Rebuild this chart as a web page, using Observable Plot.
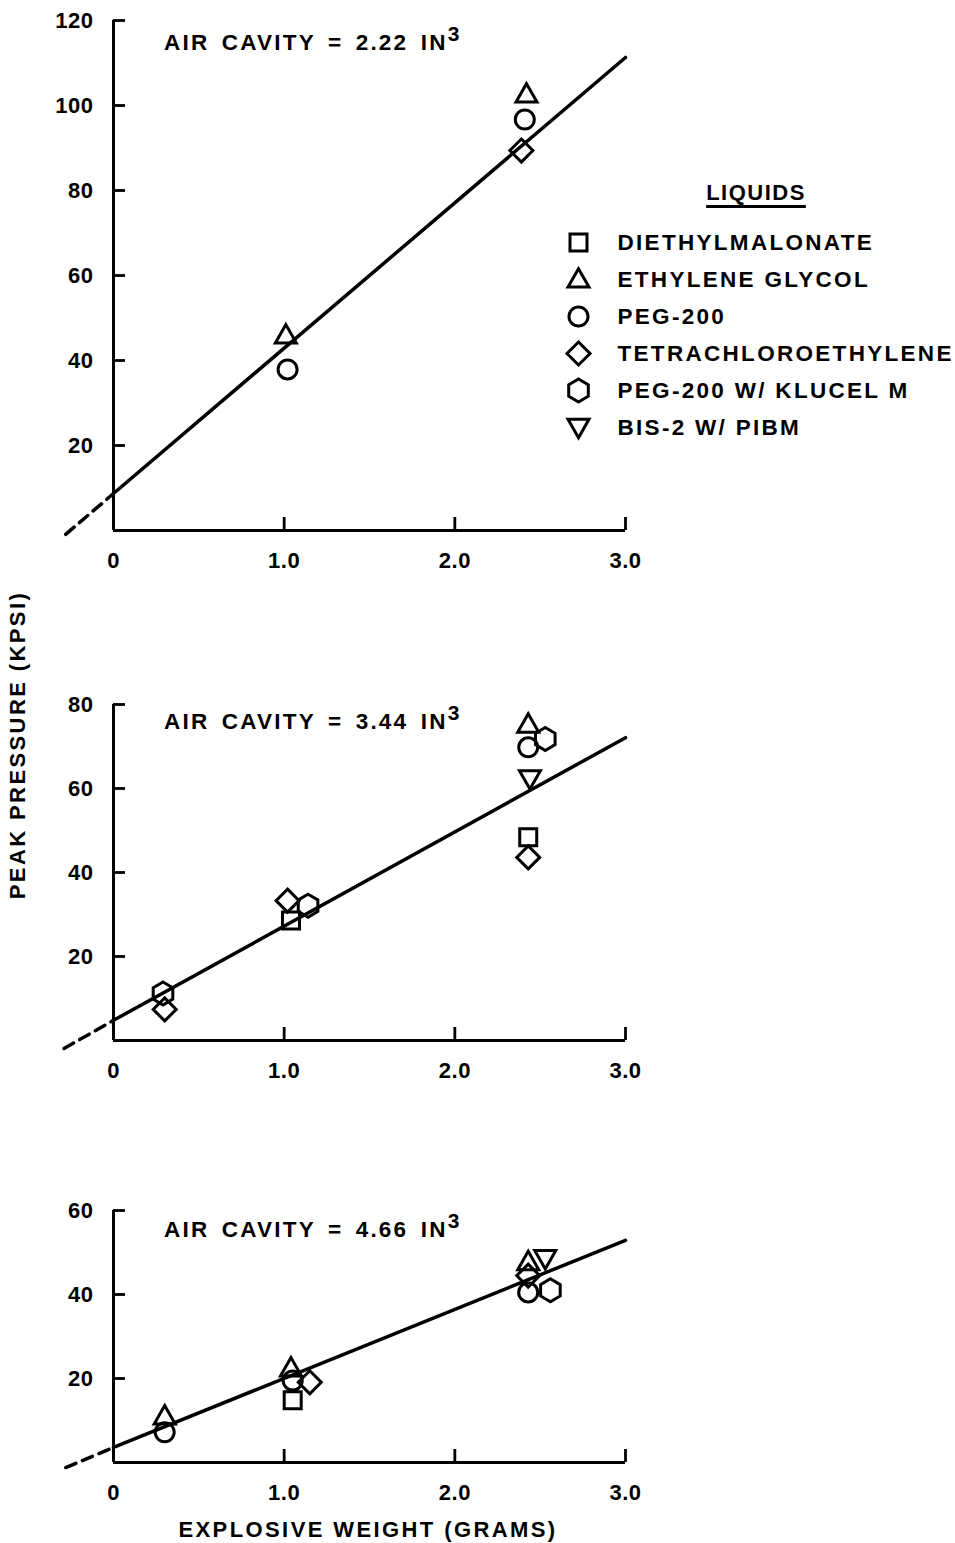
<!DOCTYPE html>
<html>
<head>
<meta charset="utf-8">
<script src="https://cdn.jsdelivr.net/npm/d3@7"></script>
<script src="https://cdn.jsdelivr.net/npm/@observablehq/plot@0.6"></script>
<style>
html, body { margin: 0; padding: 0; background: #fff; }
#page { position: relative; width: 955px; height: 1543px; overflow: hidden; background: #fff;
  font-family: "Liberation Sans", Arial, sans-serif; font-weight: bold; color: #000; }
.abs { position: absolute; }
.title { font-size: 22.5px; line-height: 22px; letter-spacing: 2.2px; word-spacing: 4px; white-space: nowrap; }
.title .sup { display: inline-block; position: relative; top: -9px; font-size: 21px; letter-spacing: 0; }
.axtitle { font-size: 22px; line-height: 22px; letter-spacing: 2.4px; white-space: nowrap; text-align: center; }
.head { font-size: 22px; line-height: 22px; letter-spacing: 1.5px; text-align: center; white-space: nowrap;
  text-decoration: underline; text-decoration-thickness: 2.5px; text-underline-offset: 5px; }
</style>
</head>
<body>
<div id="page"></div>
<script>
// ---------- data ----------
const liquids = ["DIETHYLMALONATE", "ETHYLENE GLYCOL", "PEG-200", "TETRACHLOROETHYLENE", "PEG-200 W/ KLUCEL M", "BIS-2 W/ PIBM"];
const cavities = ["2.22", "3.44", "4.66"];
const xTickValues = [0, 1, 2, 3];
const xTickLabels = ["0", "1.0", "2.0", "3.0"];
const yTicks1 = [20, 40, 60, 80, 100, 120];
const yTicks2 = [20, 40, 60, 80];
const yTicks3 = [20, 40, 60];
const yMax = [120, 80, 60];

const points1 = [
  {liquid: "ETHYLENE GLYCOL", x: 1.01, y: 45.9},
  {liquid: "ETHYLENE GLYCOL", x: 2.42, y: 102.6},
  {liquid: "PEG-200", x: 1.02, y: 37.9},
  {liquid: "PEG-200", x: 2.41, y: 96.7},
  {liquid: "TETRACHLOROETHYLENE", x: 2.39, y: 89.4}
];
const points2 = [
  {liquid: "DIETHYLMALONATE", x: 1.04, y: 28.6},
  {liquid: "DIETHYLMALONATE", x: 2.43, y: 48.4},
  {liquid: "ETHYLENE GLYCOL", x: 2.43, y: 75.2},
  {liquid: "PEG-200", x: 2.43, y: 69.8},
  {liquid: "TETRACHLOROETHYLENE", x: 0.30, y: 7.4},
  {liquid: "TETRACHLOROETHYLENE", x: 1.02, y: 33.3},
  {liquid: "TETRACHLOROETHYLENE", x: 2.43, y: 43.6},
  {liquid: "PEG-200 W/ KLUCEL M", x: 0.29, y: 11.2},
  {liquid: "PEG-200 W/ KLUCEL M", x: 1.14, y: 32.1},
  {liquid: "PEG-200 W/ KLUCEL M", x: 2.53, y: 71.8},
  {liquid: "BIS-2 W/ PIBM", x: 2.44, y: 62.3}
];
const points3 = [
  {liquid: "DIETHYLMALONATE", x: 1.05, y: 14.8},
  {liquid: "ETHYLENE GLYCOL", x: 0.30, y: 11.0},
  {liquid: "ETHYLENE GLYCOL", x: 1.04, y: 22.4},
  {liquid: "ETHYLENE GLYCOL", x: 2.43, y: 47.7},
  {liquid: "PEG-200", x: 0.30, y: 7.2},
  {liquid: "PEG-200", x: 1.05, y: 19.5},
  {liquid: "PEG-200", x: 2.43, y: 40.5},
  {liquid: "TETRACHLOROETHYLENE", x: 1.15, y: 19.1},
  {liquid: "TETRACHLOROETHYLENE", x: 2.43, y: 44.5},
  {liquid: "PEG-200 W/ KLUCEL M", x: 2.56, y: 41.0},
  {liquid: "BIS-2 W/ PIBM", x: 2.53, y: 48.5}
];
// fitted lines (solid) and their dashed extrapolation below zero
const fit1 = [{x: 0, y: 8.7}, {x: 3, y: 111.3}];
const dash1 = [{x: -0.28, y: -0.9}, {x: 0, y: 8.7}];
const fit2 = [{x: 0, y: 4.8}, {x: 3, y: 72.1}];
const dash2 = [{x: -0.29, y: -1.9}, {x: 0, y: 4.8}];
const fit3 = [{x: 0, y: 3.6}, {x: 3, y: 52.9}];
const dash3 = [{x: -0.28, y: -1.2}, {x: 0, y: 3.6}];

// ---------- symbols ----------
function poly(pts) {
  return {draw(ctx, size) {
    const k = Math.sqrt(size / Math.PI) / 10;
    pts.forEach(([x, y], i) => i ? ctx.lineTo(x * k, y * k) : ctx.moveTo(x * k, y * k));
    ctx.closePath();
  }};
}
const symCircle = {draw(ctx, size) { const r = Math.sqrt(size / Math.PI) * 0.95; ctx.moveTo(r, 0); ctx.arc(0, 0, r, 0, 2 * Math.PI); }};
const symbols = [
  poly([[-8.5, -8.5], [8.5, -8.5], [8.5, 8.5], [-8.5, 8.5]]),
  poly([[0, -10.8], [10.5, 7.6], [-10.5, 7.6]]),
  symCircle,
  poly([[0, -11.5], [11.5, 0], [0, 11.5], [-11.5, 0]]),
  poly([[0, -11.5], [9.8, -5.7], [9.8, 5.7], [0, 11.5], [-9.8, 5.7], [-9.8, -5.7]]),
  poly([[-10.5, -8.2], [10.5, -8.2], [0, 10.2]])
];

const page = document.getElementById("page");
const plotStyle = {fontFamily: "'Liberation Sans', Arial, sans-serif", fontSize: "22px", fontWeight: "bold",
  letterSpacing: "0.5px", background: "transparent", overflow: "visible", color: "#000"};

function panel(points, fit, dash, yTicks, ymax, lay) {
  const p = Plot.plot({
    width: 650, height: lay.height,
    marginLeft: 113, marginRight: 25, marginTop: lay.mt, marginBottom: lay.mb,
    x: {domain: [0, 3], axis: null},
    y: {domain: [0, ymax], axis: null},
    style: plotStyle,
    marks: [
      Plot.ruleX([0], {y1: 0, y2: ymax, strokeWidth: 3, stroke: "#000"}),
      Plot.ruleY([0], {x1: 0, x2: 3, strokeWidth: 3, stroke: "#000"}),
      Plot.ruleY(yTicks, {y: d => d, x1: 0, x2: 0, insetRight: -12, strokeWidth: 2.8, stroke: "#000"}),
      Plot.ruleX(xTickValues.filter(v => v > 0), {x: d => d, y1: 0, y2: 0, insetTop: -13, strokeWidth: 2.8, stroke: "#000"}),
      Plot.text(yTicks, {x: 0, y: d => d, text: d => String(d), textAnchor: "end", dx: -20, fill: "#000"}),
      Plot.text(xTickValues, {x: d => d, y: 0, text: (d, i) => xTickLabels[i], dy: 30, fill: "#000"}),
      Plot.line(dash, {x: "x", y: "y", strokeWidth: 3.5, stroke: "#000", strokeDasharray: "11,7"}),
      Plot.line(fit, {x: "x", y: "y", strokeWidth: 3.5, stroke: "#000"}),
      ...liquids.map((name, i) => Plot.dot(points.filter(d => d.liquid === name),
        {x: "x", y: "y", r: 10, symbol: symbols[i], stroke: "#000", fill: "none", strokeWidth: 3}))
    ]
  });
  p.style.position = "absolute";
  p.style.left = "0px";
  p.style.top = lay.top + "px";
  page.appendChild(p);
}

panel(points1, fit1, dash1, yTicks1, yMax[0], {top: 0, height: 580, mt: 20, mb: 50});
panel(points2, fit2, dash2, yTicks2, yMax[1], {top: 680, height: 400, mt: 24, mb: 40});
panel(points3, fit3, dash3, yTicks3, yMax[2], {top: 1190, height: 300, mt: 20, mb: 28});

// panel titles
const titleTops = [32, 711, 1219];
cavities.forEach((c, i) => {
  const d = document.createElement("div");
  d.className = "abs title";
  d.style.left = "164px";
  d.style.top = titleTops[i] + "px";
  d.innerHTML = `AIR CAVITY = ${c} IN<span class="sup">3</span>`;
  page.appendChild(d);
});

// axis titles
const yt = document.createElement("div");
yt.className = "abs axtitle";
yt.style.width = "400px";
yt.style.left = (18 - 200) + "px";
yt.style.top = (745 - 11) + "px";
yt.style.transform = "rotate(-90deg)";
yt.textContent = "PEAK PRESSURE (KPSI)";
page.appendChild(yt);

const xt = document.createElement("div");
xt.className = "abs axtitle";
xt.style.width = "500px";
xt.style.left = (368 - 250) + "px";
xt.style.top = (1530 - 11) + "px";
xt.textContent = "EXPLOSIVE WEIGHT (GRAMS)";
page.appendChild(xt);

// legend
const head = document.createElement("div");
head.className = "abs head";
head.style.width = "200px";
head.style.left = (756 - 100) + "px";
head.style.top = (193 - 11) + "px";
head.textContent = "LIQUIDS";
page.appendChild(head);

const leg = Plot.plot({
  width: 415, height: 240,
  marginLeft: 38, marginRight: 0, marginTop: 0, marginBottom: 0,
  x: {domain: [0, 1], axis: null},
  y: {type: "point", domain: liquids, range: [25, 214], padding: 0, axis: null},
  style: {...plotStyle, fontSize: "22.5px", letterSpacing: "2.3px"},
  marks: [
    ...liquids.map((name, i) => Plot.dot([name], {x: 0, y: d => d, r: 10, symbol: symbols[i], stroke: "#000", fill: "none", strokeWidth: 3})),
    Plot.text(liquids, {x: 0, y: d => d, text: d => d, textAnchor: "start", dx: 39, fill: "#000"})
  ]
});
leg.style.position = "absolute";
leg.style.left = "540px";
leg.style.top = "215px";
page.appendChild(leg);
</script>
</body>
</html>
